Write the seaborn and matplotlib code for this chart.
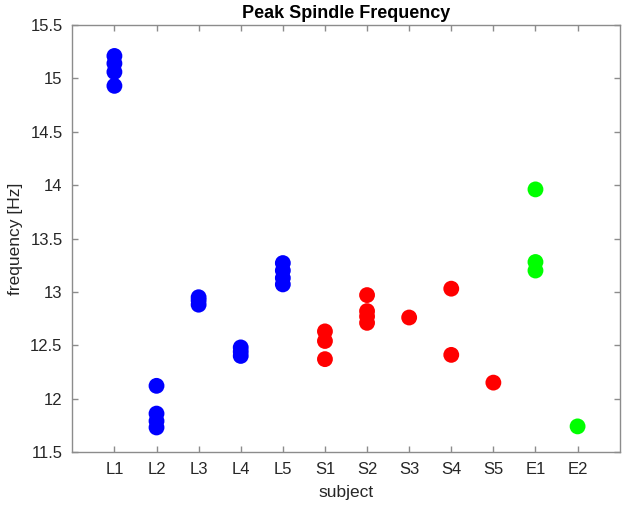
import pandas as pd
import matplotlib
matplotlib.use("Agg")
import matplotlib.pyplot as plt
import seaborn as sns

# subjects and peak spindle frequencies
subjects = ["L1", "L2", "L3", "L4", "L5", "S1", "S2", "S3", "S4", "S5", "E1", "E2"]
groups = ["L", "L", "L", "L", "L", "S", "S", "S", "S", "S", "E", "E"]
freqs = [
    [15.21, 15.14, 15.06, 14.93],
    [12.12, 11.86, 11.79, 11.73],
    [12.95, 12.92, 12.88],
    [12.48, 12.44, 12.40],
    [13.27, 13.20, 13.13, 13.07],
    [12.63, 12.54, 12.37],
    [12.97, 12.82, 12.77, 12.71],
    [12.76],
    [13.03, 12.41],
    [12.15],
    [13.96, 13.28, 13.20],
    [11.74],
]
group_colors = {"L": "#0000ff", "S": "#ff0000", "E": "#00ff00"}

rows = []
for i, (subj, grp, vals) in enumerate(zip(subjects, groups, freqs)):
    for v in vals:
        rows.append({"pos": i + 1, "subject": subj, "group": grp, "frequency": v})
df = pd.DataFrame(rows)

sns.set_style("white")
plt.rcParams["font.family"] = ["Liberation Sans", "DejaVu Sans"]

fig = plt.figure(figsize=(6.25, 5.08), dpi=100)
ax = fig.add_axes([0.1157, 0.1102, 0.8758, 0.8406])

sns.scatterplot(data=df, x="pos", y="frequency", hue="group", palette=group_colors,
                s=130, edgecolor="none", linewidth=0, legend=False, ax=ax, zorder=3)

ax.set_xlim(0, 13)
ax.set_ylim(11.5, 15.5)
ax.set_xticks(range(1, len(subjects) + 1))
ax.set_xticklabels(subjects)
ax.set_yticks([11.5, 12, 12.5, 13, 13.5, 14, 14.5, 15, 15.5])
ax.set_yticklabels(["11.5", "12", "12.5", "13", "13.5", "14", "14.5", "15", "15.5"])

for sp in ax.spines.values():
    sp.set_visible(True)
    sp.set_color("#8c8c8c")
    sp.set_linewidth(1.0)
ax.tick_params(direction="in", length=4, width=1, color="#8c8c8c",
               top=True, right=True, bottom=True, left=True,
               labelsize=12, labelcolor="#262626", pad=7)

ax.set_xlabel("subject", fontsize=12.5, color="#262626", labelpad=6)
ax.set_ylabel("frequency [Hz]", fontsize=12.5, color="#262626", labelpad=5)
ax.set_title("Peak Spindle Frequency", fontsize=13, fontweight="bold", color="black", pad=5)

fig.savefig("out.png", dpi=100)
